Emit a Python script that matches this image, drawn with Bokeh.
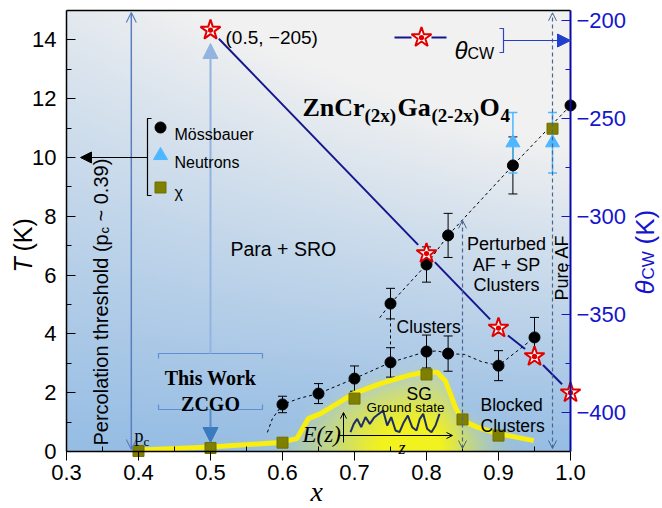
import math
import numpy as np
from bokeh.plotting import figure
from bokeh.models import (Range1d, LinearAxis, FixedTicker, Label, Arrow, NormalHead,
                          OpenHead, TeeHead, Whisker, ColumnDataSource)
from bokeh.embed import file_html
from bokeh.resources import INLINE

# ---------------- data ----------------
moss_x = [0.60, 0.65, 0.70, 0.75, 0.80, 0.83, 0.90, 0.95, 0.75, 0.80, 0.83, 0.92, 1.00]
moss_T = [1.60, 1.97, 2.48, 3.03, 3.40, 3.33, 2.92, 3.88, 5.03, 6.36, 7.35, 9.73, 11.77]
moss_err = [0.28, 0.34, 0.43, 0.50, 0.56, 0.60, 0.51, 0.68, 0.52, 0.60, 0.75, 0.97, 0.0]

neut_x = [0.92, 0.975]
neut_T = [10.50, 10.50]
neut_err = [1.03, 1.03]

chi_x = [0.40, 0.50, 0.60, 0.70, 0.80, 0.85, 0.90, 0.975]
chi_T = [0.02, 0.12, 0.30, 1.80, 2.62, 1.09, 0.54, 10.98]

cw_x = [0.50, 0.80, 0.90, 0.95, 1.00]
cw_theta = [-205, -319, -357, -371.5, -390]

sg_x = [0.40, 0.50, 0.597, 0.62, 0.628, 0.636, 0.653, 0.699, 0.736, 0.774, 0.801,
        0.815, 0.826, 0.833, 0.84, 0.85, 0.871, 0.899, 0.926, 0.949]
sg_T = [0.05, 0.15, 0.31, 0.44, 0.78, 1.12, 1.29, 1.97, 2.31, 2.58, 2.72,
        2.69, 2.41, 1.97, 1.50, 1.05, 0.82, 0.61, 0.48, 0.37]

guide_low_x = [0.579, 0.586, 0.60, 0.625, 0.65, 0.70, 0.75, 0.80, 0.815, 0.83, 0.853, 0.876, 0.90, 0.95]
guide_low_T = [0.65, 1.12, 1.60, 1.82, 1.97, 2.48, 3.03, 3.40, 3.42, 3.33, 3.30, 3.06, 2.92, 3.88]
guide_up_x = [0.735, 0.75, 0.80, 0.83, 0.92, 1.00]
guide_up_T = [4.55, 5.03, 6.36, 7.35, 9.73, 11.77]
guide_v_x = [0.75, 0.75]
guide_v_T = [3.03, 5.03]

pc = 0.39
this_work_x = 0.50
bounds_x = [0.85, 0.975]
bounds_top = [7.86, 14.92]

wave_x = [0.6944, 0.699, 0.7037, 0.7093, 0.7153, 0.7213, 0.7269, 0.7338, 0.7398, 0.7454,
          0.751, 0.757, 0.7625, 0.7685, 0.7741, 0.7801, 0.7861, 0.7907, 0.7954, 0.8009,
          0.8069, 0.8125, 0.8181]
wave_T = [0.657, 0.941, 1.111, 0.827, 1.168, 0.941, 1.145, 1.281, 1.394, 0.884,
          1.168, 0.714, 0.657, 0.998, 1.224, 0.827, 0.714, 1.111, 1.281, 0.771,
          0.657, 0.884, 1.281]

x_min, x_max = 0.3, 1.0
T_min, T_max = 0.0, 15.0
theta_min, theta_max = -420.0, -195.0
x_ticks = [0.3, 0.4, 0.5, 0.6, 0.7, 0.8, 0.9, 1.0]
x_labels = ["0.3", "0.4", "0.5", "0.6", "0.7", "0.8", "0.9", "1.0"]
T_ticks = [0, 2, 4, 6, 8, 10, 12, 14]
theta_ticks = [-400, -350, -300, -250, -200]
theta_labels = ["\u2212400", "\u2212350", "\u2212300", "\u2212250", "\u2212200"]

# ---------------- layout: plot area in page pixels ----------------
W, H = 660, 508
FL, FR, FT, FB = 66, 570, 10, 451          # where the data box sits
kx = (FR - FL) / (x_max - x_min)
ky = (FB - FT) / (T_max - T_min)
x_range = Range1d(x_min - FL / kx, x_min + (W - FL) / kx)
y_range = Range1d(T_min - (H - FB) / ky, T_min + FB / ky)
th_per_T = (theta_max - theta_min) / (T_max - T_min)


def dx(px):
    return x_min + (px - FL) / kx


def dy(py):
    return T_min + (FB - py) / ky


SANS = "Liberation Sans"
SERIF = "Liberation Serif"

p = figure(width=W, height=H, x_range=x_range, y_range=y_range,
           output_backend="svg", toolbar_location=None,
           x_axis_location=None, y_axis_location=None,
           min_border_left=0, min_border_right=0, min_border_top=0, min_border_bottom=0)
p.extra_y_ranges = {"theta": Range1d(theta_min + th_per_T * (y_range.start - T_min),
                                     theta_min + th_per_T * (y_range.end - T_min))}
p.grid.visible = False
p.outline_line_color = None
p.background_fill_color = "white"
p.border_fill_color = "white"

# ---------------- background gradient ----------------
nx, ny = 240, 180
gx = np.linspace(x_min, x_max, nx)
gT = np.linspace(T_min, T_max, ny)
X, TT = np.meshgrid(gx, gT)
u = (X - x_min) / (x_max - x_min)
v = TT / T_max
s = np.clip(0.85 * v + 0.6 * u * v, 0, 1)
blue = np.array([150, 189, 228.0])
gray = np.array([241, 241, 241.0])
rgb = blue[None, None, :] + (gray - blue)[None, None, :] * s[..., None]
curve = np.interp(X, sg_x, sg_T, left=0.05, right=0.3)
sig = np.where(X < 0.79, 0.13, 0.075)
g = np.exp(-((X - 0.79) / sig) ** 2) * np.exp(-(TT / 2.2) ** 2)
m = 1.0 / (1.0 + np.exp(-(curve - TT) / 0.18))
w = np.clip(g * m * 1.2, 0, 1)
yellow = np.array([242, 242, 30.0])
rgb = rgb * (1 - w[..., None]) + yellow[None, None, :] * w[..., None]
img = np.empty((ny, nx), dtype=np.uint32)
view = img.view(dtype=np.uint8).reshape((ny, nx, 4))
view[..., 0] = rgb[..., 0].astype(np.uint8)
view[..., 1] = rgb[..., 1].astype(np.uint8)
view[..., 2] = rgb[..., 2].astype(np.uint8)
view[..., 3] = 255
p.image_rgba(image=[img], x=x_min, y=T_min, dw=x_max - x_min, dh=T_max - T_min, level="image")

# top frame line
p.line([x_min, x_max], [T_max, T_max], line_color="black", line_width=1.5)

# ---------------- axes (library axes, fixed at the data box edges) ----------------
xax = LinearAxis(fixed_location=T_min, bounds=(x_min, x_max),
                 ticker=FixedTicker(ticks=x_ticks, minor_ticks=[0.35, 0.45, 0.55, 0.65, 0.75, 0.85, 0.95]))
xax.major_label_overrides = {t: l for t, l in zip(x_ticks, x_labels)}
yax = LinearAxis(fixed_location=x_min, bounds=(T_min, T_max),
                 ticker=FixedTicker(ticks=T_ticks, minor_ticks=[1, 3, 5, 7, 9, 11, 13]))
for ax in (xax, yax):
    ax.axis_line_color = "black"
    ax.axis_line_width = 1.5
    ax.major_label_text_font = SANS
    ax.major_label_text_font_size = "22px"
    ax.major_label_text_color = "black"
    ax.major_tick_line_color = "black"
    ax.minor_tick_line_color = "black"
xax.major_tick_in = 0
xax.major_tick_out = 9
xax.minor_tick_in = 5
xax.minor_tick_out = 0
xax.major_label_standoff = 4
yax.major_tick_in = 9
yax.major_tick_out = 0
yax.minor_tick_in = 5
yax.minor_tick_out = 0
yax.major_label_standoff = 10
p.add_layout(xax, "below")
p.add_layout(yax, "left")

rax = LinearAxis(y_range_name="theta", fixed_location=x_max, bounds=(theta_min, theta_max),
                 ticker=FixedTicker(ticks=theta_ticks, minor_ticks=[-375, -325, -275, -225]))
rax.major_label_overrides = {t: l for t, l in zip(theta_ticks, theta_labels)}
rax.axis_line_color = "#0a0aa8"
rax.axis_line_width = 2
rax.major_tick_line_color = "#1515c8"
rax.minor_tick_line_color = "#1515c8"
rax.major_tick_in = 9
rax.major_tick_out = 0
rax.minor_tick_in = 5
rax.minor_tick_out = 0
rax.major_label_standoff = 6
rax.major_label_text_font = SANS
rax.major_label_text_font_size = "22px"
rax.major_label_text_color = "#1515cc"
p.add_layout(rax, "right")


def lab(text, px, py, size, color="black", font=SANS, style="normal", align="left",
        angle=0.0, baseline="alphabetic"):
    p.add_layout(Label(x=dx(px), y=dy(py), text=text, text_font_size=f"{size}px",
                       text_color=color, text_font=font, text_font_style=style,
                       text_align=align, text_baseline=baseline, angle=angle))


def vlab(text, cx, py, size, **kw):
    # rotated (reading upward) text; cx = horizontal centre of the text line
    lab(text, cx, py, size, angle=math.pi / 2, baseline="middle", **kw)


def deco(xs_px, ys_px, color, width=1.2, dash="solid"):
    p.line([dx(a) for a in xs_px], [dy(b) for b in ys_px], line_color=color,
           line_width=width, line_dash=dash)

# axis titles
vlab("T", 22, 272, 25, style="italic")
vlab("(K)", 22, 251, 25)
vlab("\u03b8", 644, 294, 26, color="#1515cc", style="italic")
vlab("CW", 648, 279, 17, color="#1515cc")
vlab("(K)", 644, 244, 26, color="#1515cc")
lab("x", 310, 491, 28, font=SERIF, style="italic")

# ---------------- guide lines ----------------
p.line(guide_low_x, guide_low_T, line_color="black", line_width=1, line_dash="3 3")
p.line(guide_up_x, guide_up_T, line_color="black", line_width=1, line_dash="3 3")
p.line(guide_v_x, guide_v_T, line_color="black", line_width=1, line_dash="3 3")

# SG boundary (yellow)
p.line(sg_x, sg_T, line_color="#f8ee10", line_width=5)

# E(z) sketch
p.line(wave_x, wave_T, line_color="#1d2d68", line_width=2)
p.add_layout(Arrow(end=OpenHead(size=6, line_color="black", line_width=1),
                   x_start=dx(343), y_start=dy(442), x_end=dx(343), y_end=dy(412),
                   line_color="black", line_width=1))
p.add_layout(Arrow(end=OpenHead(size=6, line_color="black", line_width=1),
                   x_start=dx(338), y_start=dy(435), x_end=dx(452), y_end=dy(435),
                   line_color="black", line_width=1))

# percolation arrow
pcol = "#5a7fbf"
p.add_layout(Arrow(start=OpenHead(size=10, line_color=pcol, line_width=1.2),
                   end=OpenHead(size=10, line_color=pcol, line_width=1.2),
                   x_start=pc, y_start=dy(449), x_end=pc, y_end=dy(12),
                   line_color=pcol, line_width=1.5))

# phase boundaries (dashed arrows)
bcol = "#4a6690"
for bx, bt in zip(bounds_x, bounds_top):
    p.add_layout(Arrow(start=OpenHead(size=8, line_color=bcol, line_width=1),
                       end=OpenHead(size=8, line_color=bcol, line_width=1),
                       x_start=bx, y_start=dy(448), x_end=bx, y_end=bt,
                       line_color=bcol, line_width=1.2, line_dash="4 3"))

# This work arrows + brackets
p.add_layout(Arrow(end=NormalHead(size=15, fill_color="#93b3e0", line_color="#93b3e0"),
                   x_start=this_work_x, y_start=dy(353), x_end=this_work_x, y_end=dy(43),
                   line_color="#93b3e0", line_width=2))
p.add_layout(Arrow(end=NormalHead(size=15, fill_color="#3a7bc0", line_color="#3a7bc0"),
                   x_start=this_work_x, y_start=dy(409), x_end=this_work_x, y_end=dy(442),
                   line_color="#5d8ccc", line_width=2))
deco([158, 158, 262, 262], [358, 353, 353, 358], "#5f8fd0")
deco([158, 158, 262, 262], [404, 409, 409, 404], "#5f8fd0")

# ---------------- error bars ----------------
mx = [a for a, e in zip(moss_x, moss_err) if e > 0]
mlo = [t - e for t, e in zip(moss_T, moss_err) if e > 0]
mhi = [t + e for t, e in zip(moss_T, moss_err) if e > 0]
p.add_layout(Whisker(source=ColumnDataSource(dict(x=mx, lower=mlo, upper=mhi)),
                     base="x", lower="lower", upper="upper", dimension="height",
                     line_color="black", line_width=1,
                     upper_head=TeeHead(size=9, line_color="black", line_width=1),
                     lower_head=TeeHead(size=9, line_color="black", line_width=1)))
ncol = "#4db8ff"
p.add_layout(Whisker(source=ColumnDataSource(dict(
    x=neut_x, lower=[t - e for t, e in zip(neut_T, neut_err)],
    upper=[t + e for t, e in zip(neut_T, neut_err)])),
    base="x", lower="lower", upper="upper", dimension="height",
    line_color=ncol, line_width=1.5,
    upper_head=TeeHead(size=9, line_color=ncol, line_width=1.5),
    lower_head=TeeHead(size=9, line_color=ncol, line_width=1.5)))

# ---------------- markers ----------------
p.scatter(chi_x, chi_T, marker="square", size=11, fill_color="#808000", line_color="#6e6e00")
p.scatter(neut_x, neut_T, marker="triangle", size=14, color=ncol)
p.scatter(moss_x, moss_T, marker="circle", size=11, color="black")

# theta_CW line: segments between stars with a small gap around each star
GAP = 12.0
seg_xs, seg_ys = [], []
ty_k = ky / th_per_T
for (x0, t0), (x1, t1) in zip(zip(cw_x, cw_theta), zip(cw_x[1:], cw_theta[1:])):
    ddx, ddy = (x1 - x0) * kx, (t1 - t0) * ty_k
    L = math.hypot(ddx, ddy)
    f = GAP / L
    seg_xs.append([x0 + (x1 - x0) * f, x1 - (x1 - x0) * f])
    seg_ys.append([t0 + (t1 - t0) * f, t1 - (t1 - t0) * f])
p.multi_line(seg_xs, seg_ys, y_range_name="theta", line_color="#15158c", line_width=2)
p.scatter(cw_x, cw_theta, y_range_name="theta", marker="star_dot", size=21,
          fill_color="white", line_color="#e00000", line_width=2)

# ---------------- legends ----------------
deco([151, 147, 147, 151], [118, 118, 195, 195], "black")
p.add_layout(Arrow(end=NormalHead(size=11, fill_color="black", line_color="black"),
                   x_start=dx(147), y_start=dy(157), x_end=dx(80), y_end=dy(157),
                   line_color="black", line_width=1.2))
p.scatter([dx(160)], [dy(127)], marker="circle", size=11, color="black")
p.scatter([dx(160)], [dy(155)], marker="triangle", size=14, color=ncol)
p.scatter([dx(160)], [dy(187)], marker="square", size=11, fill_color="#808000", line_color="#6e6e00")
lab("M\u00f6ssbauer", 174, 134, 16)
lab("Neutrons", 174, 162, 16)
lab("\u03c7", 174, 192, 16)

deco([394, 411], [37, 37], "#15158c", width=2)
deco([431, 446], [37, 37], "#15158c", width=2)
p.scatter([dx(421)], [dy(37)], marker="star_dot", size=21, fill_color="white",
          line_color="#e00000", line_width=2)
lab("\u03b8", 454, 50, 24, style="italic")
lab("CW", 467, 53, 16)
deco([499, 503, 503, 499], [28, 28, 52, 52], "#2a45c0")
p.add_layout(Arrow(end=NormalHead(size=13, fill_color="#1f3fcc", line_color="#1f3fcc"),
                   x_start=dx(503), y_start=dy(40), x_end=dx(570), y_end=dy(40),
                   line_color="#1f3fcc", line_width=1.2))

# ---------------- texts ----------------
tx, ty = 302, 107
for t, off, sz, sub in [("ZnCr", 0, 26, False), ("(2x)", 62, 19, True), ("Ga", 95, 26, False),
                        ("(2-2x)", 129, 19, True), ("O", 177, 26, False), ("4", 198, 19, True)]:
    lab(t, tx + off, ty + (8 if sub else 0), sz, font=SERIF, style="bold")

lab("(0.5, \u2212205)", 225, 37, 19)
lab("Para + SRO", 230, 248, 19.5)
lab("Clusters", 396, 326, 17.5)
lab("Perturbed", 506, 243, 18, align="center")
lab("AF + SP", 506, 264, 18, align="center")
lab("Clusters", 506, 284, 18, align="center")
vlab("Pure  AF", 561, 300, 18)
lab("SG", 406, 393, 17.5)
lab("Ground state", 366, 407, 13.5)
lab("Blocked", 480, 404, 17.5)
lab("Clusters", 480, 425, 17.5)
lab("E(z)", 302, 434, 23, font=SERIF, style="italic")
lab("z", 398, 447, 18, font=SERIF, style="italic")
lab("This Work", 210, 377, 20, font=SERIF, style="bold", align="center")
lab("ZCGO", 210, 403, 20, font=SERIF, style="bold", align="center")
lab("p", 134, 435, 18, font=SERIF)
lab("c", 143, 441, 13, font=SERIF)
vlab("Percolation threshold (p", 100, 445, 20)
vlab("c", 104, 233, 13)
vlab("~ 0.39)", 100, 221, 20)

open("out.html", "w").write(file_html(p, INLINE))
